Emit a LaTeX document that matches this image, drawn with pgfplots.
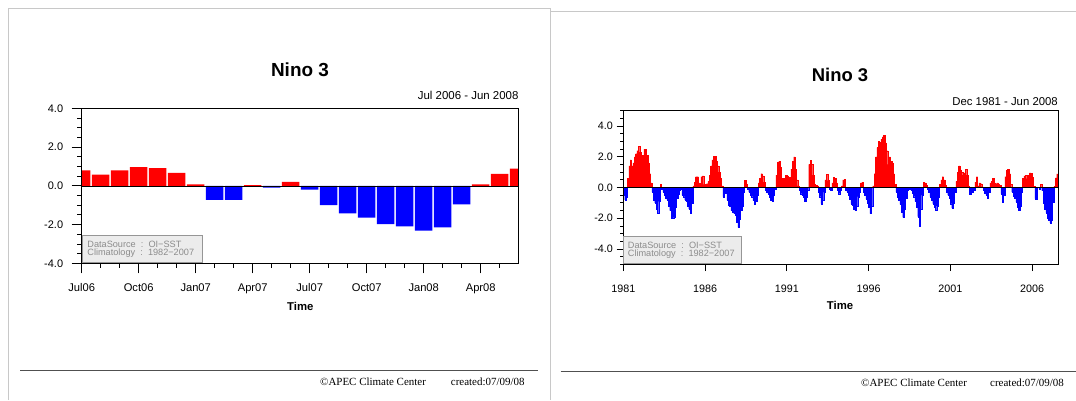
\documentclass[border=0pt]{standalone}
\usepackage{pgfplots}
\pgfplotsset{compat=1.18}
\usepackage{pgfplotstable}
\usepackage{fontspec}
\setmainfont{Liberation Sans}
\newfontfamily\seriffont{Liberation Serif}
\definecolor{ncred}{RGB}{255,0,0}
\definecolor{ncblue}{RGB}{0,0,255}
\definecolor{framec}{RGB}{200,200,200}
\definecolor{boxfill}{RGB}{236,236,236}
\definecolor{boxdraw}{RGB}{150,150,150}
\definecolor{boxtext}{RGB}{140,140,140}
\definecolor{footc}{RGB}{80,80,80}

% Nino 3 anomaly, Jul 2006 - Jun 2008
\pgfplotstableread[row sep=\\]{v\\ 0.80\\ 0.58\\ 0.79\\ 0.96\\ 0.91\\ 0.67\\ 0.07\\ -0.73\\ -0.73\\ 0.03\\ -0.09\\ 0.20\\ -0.20\\ -1.00\\ -1.42\\ -1.64\\ -1.98\\ -2.10\\ -2.31\\ -2.15\\ -0.96\\ 0.07\\ 0.62\\ 0.89\\}\nineshort

% Nino 3 anomaly, Dec 1981 - Jun 2008 (monthly)
\pgfplotstableread[row sep=\\]{v\\
-0.5\\ -0.8\\ -0.6\\
0.6\\ 1.4\\ 1.8\\ 1.4\\ 1.6\\ 2.0\\ 2.2\\ 2.4\\ 2.7\\ 2.3\\ 1.7\\ 2.1\\ 2.5\\ 2.5\\ 2.1\\ 1.6\\ 0.9\\ 0.3\\
-0.3\\ -0.8\\ -1.0\\ -1.4\\ -1.65\\ -0.9\\ 0.2\\ -0.1\\
-0.3\\ -0.5\\ -0.7\\ -0.8\\ -1.2\\ -1.5\\ -2.0\\ -2.0\\ -1.95\\ -1.3\\ -0.7\\ -0.4\\ -0.2\\
-0.1\\ -0.5\\ -0.6\\ -0.8\\ -0.9\\ -1.2\\ -1.4\\ -1.7\\ -1.0\\
0.1\\ 0.35\\ 0.7\\ 0.7\\ 0.3\\ 0.25\\ 0.7\\ 0.75\\ 0.2\\ 0.2\\ 0.25\\ 0.4\\ 0.8\\ 1.4\\ 1.8\\ 2.05\\ 2.05\\ 1.7\\ 1.4\\ 1.0\\ 0.6\\ 0.1\\
-0.6\\ -0.3\\ -0.35\\ -0.8\\ -1.15\\ -1.2\\ -1.5\\ -1.6\\ -1.7\\ -1.8\\ -2.25\\ -2.6\\ -2.05\\ -1.5\\ -1.2\\ -0.3\\
0.45\\ 0.2\\
-0.1\\ -0.3\\ -0.5\\ -0.6\\ -0.85\\ -1.05\\ -0.9\\ -0.5\\
0.3\\ 0.6\\ 0.9\\ 0.75\\ 0.35\\
-0.15\\ -0.3\\ -0.4\\ -0.6\\ -0.8\\ -0.9\\ -0.5\\ -0.1\\
0.8\\ 1.65\\ 1.7\\ 1.3\\ 0.6\\ 0.3\\ 0.6\\ 0.8\\ 0.75\\ 0.5\\ 0.65\\ 1.2\\ 1.7\\ 2.0\\ 1.2\\ 0.5\\ 0.1\\
-0.2\\ -0.4\\ -0.5\\ -0.6\\ -0.9\\ -0.6\\ -0.2\\
1.5\\ 1.75\\ 1.5\\ 0.8\\ 0.2\\ 0.15\\ 0.1\\
-0.3\\ -0.6\\ -1.05\\ -0.8\\ -0.3\\
0.5\\ 0.85\\ 0.45\\
-0.1\\ -0.15\\
0.3\\ 0.65\\ 0.6\\ 0.3\\
-0.2\\ -0.4\\ -0.2\\
0.1\\ 0.5\\ 0.55\\
-0.15\\ -0.3\\ -0.5\\ -0.75\\ -1.05\\ -1.15\\ -1.4\\ -1.5\\ -1.2\\ -0.6\\ -0.3\\
0.3\\ 0.35\\
-0.3\\ -0.5\\ -0.75\\ -1.0\\ -1.3\\ -1.7\\ -1.2\\
0.1\\ 0.9\\ 2.0\\ 2.6\\ 3.0\\ 2.95\\ 3.15\\ 3.3\\ 3.4\\ 2.9\\ 2.4\\ 1.5\\ 2.0\\ 1.7\\ 1.6\\ 0.9\\ 0.2\\
-0.3\\ -0.6\\ -0.85\\ -1.1\\ -1.6\\ -1.95\\ -1.4\\ -0.7\\ -0.2\\ -0.05\\ -0.1\\ -0.2\\
-0.35\\ -0.6\\ -0.9\\ -1.3\\ -1.9\\ -2.5\\ -1.4\\ -0.5\\
0.35\\ 0.3\\ 0.15\\
-0.1\\ -0.3\\ -0.6\\ -0.8\\ -1.05\\ -1.25\\ -1.45\\ -1.2\\ -0.6\\
0.2\\ 0.5\\ 0.7\\ 0.5\\ 0.15\\
-0.3\\ -0.5\\ -0.7\\ -1.05\\ -1.35\\ -1.0\\ -0.3\\
0.4\\ 1.0\\ 1.4\\ 1.15\\ 1.0\\ 0.8\\ 0.95\\ 1.2\\ 0.8\\ 0.1\\
-0.45\\ -0.2\\ -0.3\\ -0.15\\
0.35\\ 0.7\\ 0.1\\ 0.3\\ 0.25\\ 0.05\\
-0.2\\ -0.35\\ -0.5\\ -0.7\\ -0.3\\
0.3\\ 0.4\\ 0.6\\ 0.3\\ 0.25\\ 0.3\\ 0.2\\ 0.15\\
-0.4\\ -0.95\\ -0.5\\
0.7\\ 1.1\\ 1.2\\ 0.9\\ 0.2\\
-0.3\\ -0.55\\ -0.7\\ -0.95\\ -1.3\\ -1.45\\ -1.2\\ -0.3\\
0.6\\ 0.75\\
0.80\\ 0.58\\ 0.79\\ 0.96\\ 0.91\\ 0.67\\ 0.07\\ -0.73\\ -0.73\\ 0.03\\ -0.09\\ 0.20\\ -0.20\\ -1.00\\ -1.42\\ -1.64\\ -1.98\\ -2.10\\ -2.31\\ -2.15\\ -0.96\\ 0.07\\ 0.62\\ 0.89\\
}\ninelong

\pgfplotsset{
  ncl/.style={
    scale only axis, axis on top, clip=true,
    tick align=outside, tick pos=left,
    axis line style={line width=0.9bp, black},
    tick style={black, line width=0.8bp},
    ytick={-4,-2,0,2,4},
    yticklabels={-4.0,-2.0,0.0,2.0,4.0},
    extra y ticks={0}, extra y tick labels={},
    extra y tick style={grid=major, major tick length=0pt,
      major grid style={black, line width=0.6bp}},
  }
}

\begin{document}
\begin{tikzpicture}[x=1bp,y=1bp]
% screenshot frames
\draw[framec, line width=1bp] (8,0) -- (8,391.7) -- (550,391.7) -- (550,0);
\draw[framec, line width=1bp] (550,388.3) -- (1076,388.3);

% ---------- left chart ----------
\begin{axis}[ncl,
  at={(81.7bp,136.7bp)}, anchor=south west,
  width=437bp, height=155bp,
  xmin=0, xmax=23, ymin=-4, ymax=4,
  xtick={0,3,...,21},
  xticklabels={Jul06,Oct06,Jan07,Apr07,Jul07,Oct07,Jan08,Apr08},
  minor xtick={1,...,22},
  minor ytick={-3.5,-3,...,3.5},
  major tick length=10bp, minor tick length=4.5bp,
  xticklabel style={font=\fontsize{11.2}{13}\selectfont, inner sep=0pt, yshift=-10bp},
  yticklabel style={font=\fontsize{11}{13}\selectfont, inner sep=0pt, xshift=-8.4bp},
]
\addplot[ybar, bar width=0.92, bar shift=0pt, fill=ncred, draw=none,
  restrict y to domain=0:10] table[x expr=\coordindex, y=v]{\nineshort};
\addplot[ybar, bar width=0.92, bar shift=0pt, fill=ncblue, draw=none,
  restrict y to domain=-10:0] table[x expr=\coordindex, y=v]{\nineshort};
\end{axis}

\node[font=\bfseries\fontsize{19}{22}\selectfont] at (300,330) {Nino 3};
\node[anchor=east, font=\fontsize{11.5}{13}\selectfont, inner sep=0pt] at (518.7,305) {Jul 2006 - Jun 2008};
\node[font=\bfseries\fontsize{11.4}{13}\selectfont] at (300.3,94) {Time};
\draw[boxdraw, fill=boxfill, line width=0.7bp] (82.2,137.2) rectangle (202,165);
\node[anchor=west, inner sep=0pt, text=boxtext, font=\fontsize{9.2}{10}\selectfont] at (87.2,155.7) {DataSource\ \ :\ \ OI−SST};
\node[anchor=west, inner sep=0pt, text=boxtext, font=\fontsize{9.2}{10}\selectfont] at (87.2,147.1) {Climatology\ \ :\ \ 1982−2007};

% ---------- right chart ----------
\begin{axis}[ncl,
  at={(623.3bp,135.7bp)}, anchor=south west,
  width=434.7bp, height=153.6bp,
  xmin=0, xmax=319, ymin=-5, ymax=5,
  xtick={0,60,...,300},
  xticklabels={1981,1986,1991,1996,2001,2006},
  minor ytick={-5,-4.5,...,5},
  major tick length=6.7bp, minor tick length=3.3bp,
  xticklabel style={font=\fontsize{10.8}{13}\selectfont, inner sep=0pt, yshift=-13.3bp},
  yticklabel style={font=\fontsize{10.8}{13}\selectfont, inner sep=0pt, xshift=-3.6bp},
]
\addplot[ybar, bar width=1, bar shift=0pt, fill=ncred, draw=ncred, line width=0.25bp,
  restrict y to domain=0:10] table[x expr=\coordindex+0.5, y=v]{\ninelong};
\addplot[ybar, bar width=1, bar shift=0pt, fill=ncblue, draw=ncblue, line width=0.25bp,
  restrict y to domain=-10:0] table[x expr=\coordindex+0.5, y=v]{\ninelong};
\end{axis}

\node[font=\bfseries\fontsize{18.5}{22}\selectfont] at (840,325) {Nino 3};
\node[anchor=east, font=\fontsize{11.4}{13}\selectfont, inner sep=0pt] at (1058,298.3) {Dec 1981 - Jun 2008};
\node[font=\bfseries\fontsize{11.4}{13}\selectfont] at (840,95) {Time};
\draw[boxdraw, fill=boxfill, line width=0.7bp] (623.8,136.2) rectangle (741.7,163.3);
\node[anchor=west, inner sep=0pt, text=boxtext, font=\fontsize{9.2}{10}\selectfont] at (627.7,155) {DataSource\ \ :\ \ OI−SST};
\node[anchor=west, inner sep=0pt, text=boxtext, font=\fontsize{9.2}{10}\selectfont] at (627.7,146) {Climatology\ \ :\ \ 1982−2007};

% ---------- footers ----------
\draw[footc, line width=1.4bp] (20,29.3) -- (538,29.3);
\draw[footc, line width=1.4bp] (560.6,28.3) -- (1076,28.3);
\node[anchor=west, inner sep=0pt, font=\seriffont\fontsize{11}{13}\selectfont] at (320,18) {©APEC Climate Center};
\node[anchor=west, inner sep=0pt, font=\seriffont\fontsize{11}{13}\selectfont] at (450.7,18) {created:07/09/08};
\node[anchor=west, inner sep=0pt, font=\seriffont\fontsize{11}{13}\selectfont] at (861,17) {©APEC Climate Center};
\node[anchor=west, inner sep=0pt, font=\seriffont\fontsize{11}{13}\selectfont] at (990,17) {created:07/09/08};

\pgfresetboundingbox
\path (0,0) rectangle (1076,400);
\end{tikzpicture}
\end{document}
